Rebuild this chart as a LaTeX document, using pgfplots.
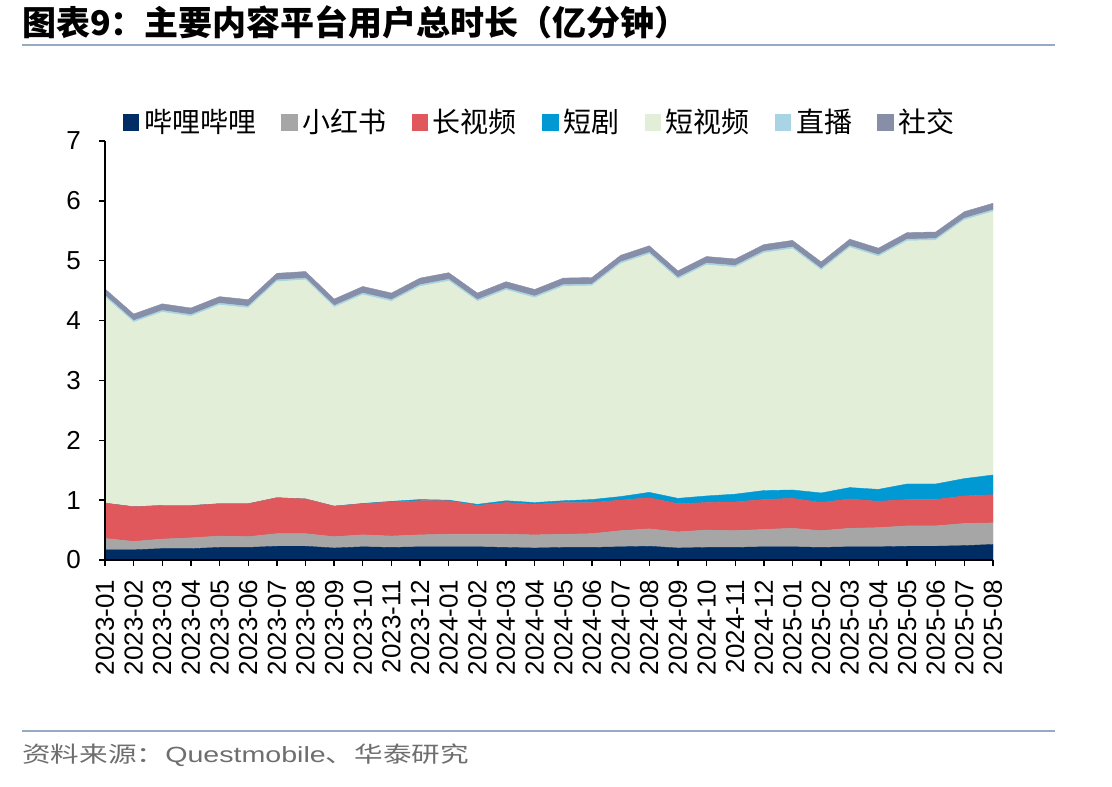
\documentclass[border=0pt]{standalone}
\usepackage{fontspec}
\setmainfont{Liberation Sans}
\newfontfamily\cjk{Noto Sans CJK SC}
\usepackage{graphicx}
\usepackage{pgfplots}
\usepackage{pgfplotstable}
\pgfplotsset{compat=1.18}
\definecolor{cBili}{RGB}{0,45,100}
\definecolor{cXhs}{RGB}{166,166,166}
\definecolor{cLong}{RGB}{224,88,92}
\definecolor{cDrama}{RGB}{0,153,212}
\definecolor{cSV}{RGB}{226,238,216}
\definecolor{cLive}{RGB}{168,212,228}
\definecolor{cSocial}{RGB}{134,142,168}
\definecolor{cRule}{RGB}{150,170,195}
\definecolor{cSrc}{RGB}{110,110,110}

\pgfplotstableread{
x bili xhs long drama sv live social
0  0.17 0.19 0.59 0.000 3.44 0.03 0.11
1  0.17 0.14 0.58 0.000 3.08 0.03 0.11
2  0.19 0.16 0.56 0.000 3.23 0.03 0.11
3  0.19 0.18 0.54 0.000 3.16 0.03 0.11
4  0.21 0.19 0.54 0.000 3.32 0.03 0.11
5  0.21 0.18 0.55 0.000 3.27 0.03 0.11
6  0.23 0.21 0.60 0.000 3.61 0.03 0.11
7  0.23 0.21 0.58 0.000 3.66 0.03 0.11
8  0.20 0.19 0.51 0.000 3.32 0.03 0.11
9  0.22 0.20 0.52 0.005 3.485 0.03 0.11
10 0.21 0.19 0.57 0.010 3.34 0.03 0.11
11 0.22 0.20 0.57 0.020 3.56 0.03 0.11
12 0.22 0.21 0.56 0.010 3.66 0.03 0.11
13 0.22 0.21 0.48 0.020 3.39 0.03 0.11
14 0.21 0.22 0.53 0.030 3.52 0.03 0.11
15 0.20 0.22 0.51 0.030 3.42 0.03 0.11
16 0.21 0.22 0.53 0.030 3.58 0.03 0.11
17 0.21 0.23 0.52 0.050 3.57 0.03 0.11
18 0.22 0.27 0.51 0.060 3.89 0.03 0.11
19 0.23 0.29 0.52 0.090 3.98 0.03 0.11
20 0.20 0.27 0.47 0.090 3.66 0.03 0.11
21 0.21 0.29 0.46 0.110 3.86 0.03 0.11
22 0.21 0.28 0.48 0.130 3.79 0.03 0.11
23 0.22 0.29 0.50 0.150 3.97 0.03 0.11
24 0.22 0.31 0.50 0.140 4.03 0.03 0.11
25 0.21 0.28 0.47 0.160 3.72 0.03 0.11
26 0.22 0.31 0.49 0.190 4.01 0.03 0.11
27 0.22 0.32 0.44 0.200 3.89 0.03 0.11
28 0.23 0.34 0.44 0.260 4.06 0.03 0.11
29 0.23 0.34 0.44 0.260 4.07 0.03 0.11
30 0.24 0.37 0.46 0.290 4.32 0.03 0.11
31 0.26 0.36 0.47 0.330 4.40 0.03 0.11
}\data

\begin{document}
\begin{tikzpicture}[x=0.75pt,y=0.75pt]
\useasboundingbox (0,0) rectangle (1112,786);
\node[anchor=west,inner sep=0pt,font=\cjk\bfseries\fontsize{25.5}{30}\selectfont] at (22,764) {图表9：主要内容平台用户总时长（亿分钟）};
\draw[cRule,line width=1.5pt] (22,741) -- (1055,741);
\draw[cRule,line width=1.5pt] (22,55) -- (1055,55);
\node[anchor=west,inner sep=0pt,text=cSrc,font=\fontsize{16.5}{20}\selectfont] at (22,31) {\scalebox{1.3}[1]{{\cjk 资料来源：}Questmobile{\cjk 、华泰研究}}};
\begin{axis}[
  at={(78.75pt,169.5pt)}, anchor=south west,
  scale only axis, width=666pt, height=314.25pt,
  xmin=0, xmax=31, ymin=0, ymax=7,
  stack plots=y, area style,
  axis x line*=bottom, axis y line*=left,
  axis line style={-, black, line width=1pt},
  tick align=outside, major tick length=4.5pt,
  tick style={black, line width=1pt},
  xtick=data,
  xticklabels={2023-01,2023-02,2023-03,2023-04,2023-05,2023-06,2023-07,2023-08,2023-09,2023-10,2023-11,2023-12,2024-01,2024-02,2024-03,2024-04,2024-05,2024-06,2024-07,2024-08,2024-09,2024-10,2024-11,2024-12,2025-01,2025-02,2025-03,2025-04,2025-05,2025-06,2025-07,2025-08},
  xticklabel style={rotate=90, anchor=east, inner xsep=10pt, font=\fontsize{19.5}{20}\selectfont},
  ytick={0,1,2,3,4,5,6,7},
  yticklabel style={font=\fontsize{19.5}{20}\selectfont, xshift=-10pt},
  /pgf/number format/assume math mode=true,
  legend columns=7,
  legend style={at={(0.49,1)}, anchor=center, yshift=14.25pt, draw=none, fill=none,
    font=\cjk\fontsize{21}{24}\selectfont,
    /tikz/every even column/.append style={column sep=17pt},
    /tikz/every odd column/.append style={column sep=2pt}},
  legend image code/.code={\fill[#1] (0pt,-6pt) rectangle (11.5pt,6pt);},
]
\addplot[fill=cBili, draw=cBili, line width=0.3pt] table[x=x,y=bili]{\data} \closedcycle;
\addplot[fill=cXhs, draw=cXhs, line width=0.3pt] table[x=x,y=xhs]{\data} \closedcycle;
\addplot[fill=cLong, draw=cLong, line width=0.3pt] table[x=x,y=long]{\data} \closedcycle;
\addplot[fill=cDrama, draw=cDrama, line width=0.3pt] table[x=x,y=drama]{\data} \closedcycle;
\addplot[fill=cSV, draw=cSV, line width=0.3pt] table[x=x,y=sv]{\data} \closedcycle;
\addplot[fill=cLive, draw=cLive, line width=0.3pt] table[x=x,y=live]{\data} \closedcycle;
\addplot[fill=cSocial, draw=cSocial, line width=0.3pt] table[x=x,y=social]{\data} \closedcycle;
\legend{哔哩哔哩,小红书,长视频,短剧,短视频,直播,社交}
\end{axis}
\end{tikzpicture}
\end{document}
